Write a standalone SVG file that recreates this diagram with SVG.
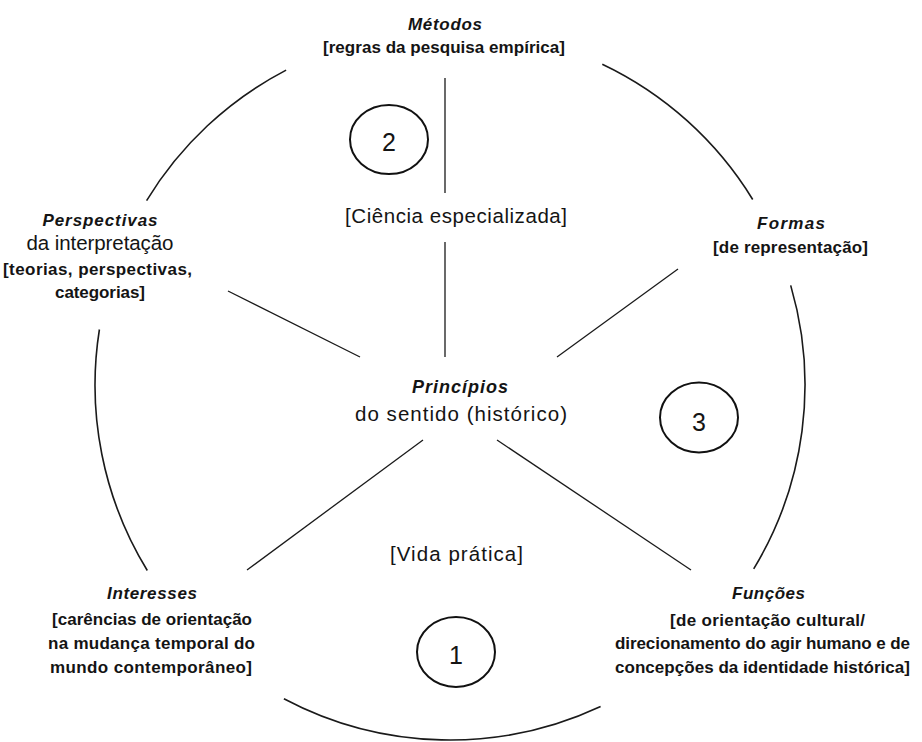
<svg xmlns="http://www.w3.org/2000/svg" width="922" height="742" viewBox="0 0 922 742">
<style>
text{font-family:"Liberation Sans",Arial,sans-serif;fill:#141414;text-anchor:middle;}
.t{font-weight:bold;font-style:italic;font-size:17px;}
.b{font-weight:bold;font-size:17px;}
.r{font-size:20.5px;}
.n{font-size:25px;}
.arc{fill:none;stroke:#1a1a1a;stroke-width:1.6;}
.ln{stroke:#1a1a1a;stroke-width:1.3;}
.el{fill:none;stroke:#111;stroke-width:2;}
</style>
<rect width="922" height="742" fill="#fff"/>
<g id="connectors">
<path class="arc" d="M146.6,200.6 A355,355 0 0 1 286.1,70.1"/>
<path class="arc" d="M602.3,64.3 A355,355 0 0 1 752.7,199.5"/>
<path class="arc" d="M790.7,285.4 A355,355 0 0 1 753.7,568.9"/>
<path class="arc" d="M600.6,706.5 A355,355 0 0 1 283.9,698.7"/>
<path class="arc" d="M147.3,570.5 A355,355 0 0 1 99.4,329.5"/>
<line class="ln" x1="445" y1="78" x2="445" y2="193"/>
<line class="ln" x1="445" y1="242" x2="445" y2="357"/>
<line class="ln" x1="228" y1="291" x2="360" y2="357"/>
<line class="ln" x1="678" y1="269" x2="557" y2="357"/>
<line class="ln" x1="423" y1="440" x2="247" y2="570"/>
<line class="ln" x1="497" y1="440" x2="691" y2="570"/>
</g>
<g id="metodos">
<text class="t" x="445" y="30" textLength="74">Métodos</text>
<text class="b" x="444" y="53" textLength="242">[regras da pesquisa empírica]</text>
</g>
<g id="perspectivas">
<text class="t" x="100" y="226" textLength="115">Perspectivas</text>
<text class="r" x="100" y="250" textLength="147">da interpretação</text>
<text class="b" x="97.5" y="275" textLength="189">[teorias, perspectivas,</text>
<text class="b" x="100" y="298" textLength="90">categorias]</text>
</g>
<g id="formas">
<text class="t" x="791" y="229" textLength="68">Formas</text>
<text class="b" x="790.5" y="253" textLength="155">[de representação]</text>
</g>
<g id="ciencia">
<text class="r" x="456" y="223" textLength="222">[Ciência especializada]</text>
</g>
<g id="principios">
<text class="t" x="460" y="393" textLength="96" style="font-size:18px">Princípios</text>
<text class="r" x="461" y="421" textLength="212">do sentido (histórico)</text>
</g>
<g id="vida">
<text class="r" x="456.5" y="561" textLength="133">[Vida prática]</text>
</g>
<g id="interesses">
<text class="t" x="152" y="599" textLength="90">Interesses</text>
<text class="b" x="152" y="625" textLength="200">[carências de orientação</text>
<text class="b" x="151.5" y="649" textLength="207">na mudança temporal do</text>
<text class="b" x="151" y="673" textLength="202">mundo contemporâneo]</text>
</g>
<g id="funcoes">
<text class="t" x="768.5" y="599" textLength="73">Funções</text>
<text class="b" x="767.5" y="626" textLength="195">[de orientação cultural/</text>
<text class="b" x="762.5" y="649" textLength="295">direcionamento do agir humano e de</text>
<text class="b" x="762.5" y="673" textLength="295">concepções da identidade histórica]</text>
</g>
<g id="n2">
<ellipse class="el" cx="389" cy="139.5" rx="39" ry="34.5"/>
<text class="n" x="389" y="151">2</text>
</g>
<g id="n3">
<ellipse class="el" cx="699" cy="417.5" rx="39" ry="35"/>
<text class="n" x="699" y="431">3</text>
</g>
<g id="n1">
<ellipse class="el" cx="456" cy="652" rx="39" ry="35"/>
<text class="n" x="456" y="664">1</text>
</g>
</svg>
